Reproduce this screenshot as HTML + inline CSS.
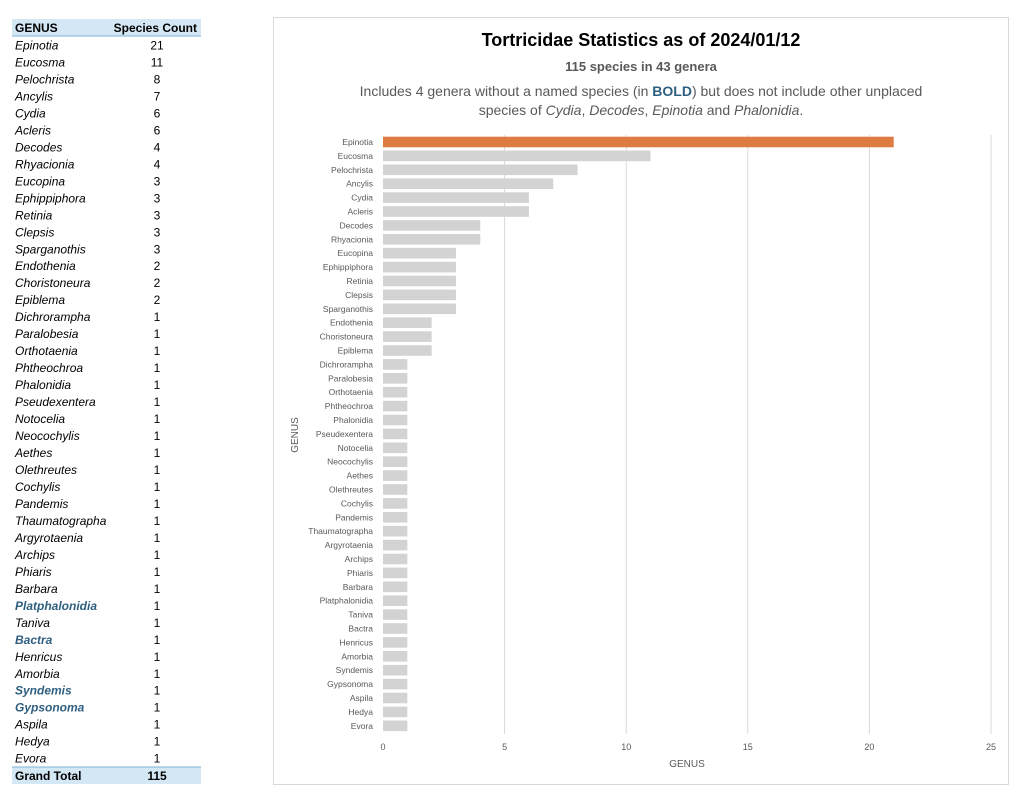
<!DOCTYPE html>
<html><head><meta charset="utf-8"><style>
body{margin:0;background:#fff;width:1024px;height:802px;overflow:hidden;font-family:"Liberation Sans",sans-serif}
</style></head><body>
<svg width="1024" height="802" xmlns="http://www.w3.org/2000/svg" font-family="Liberation Sans, sans-serif">
<rect x="12" y="19" width="189" height="17" fill="#d4e7f4"/>
<line x1="12" y1="36" x2="201" y2="36" stroke="#7fb3d8" stroke-width="1"/>
<text x="15" y="32" font-size="12" font-weight="bold" fill="#000">GENUS</text>
<text x="197" y="32" font-size="12" font-weight="bold" fill="#000" text-anchor="end">Species Count</text>
<rect x="12" y="767" width="189" height="17" fill="#d4e7f4"/>
<line x1="12" y1="767" x2="201" y2="767" stroke="#7fb3d8" stroke-width="1"/>
<text x="15" y="780" font-size="12" font-weight="bold">Grand Total</text>
<text x="157" y="780" font-size="12" font-weight="bold" text-anchor="middle">115</text>
<rect x="273.5" y="17.5" width="735" height="767" fill="#fff" stroke="#d9d9d9"/>
<text x="641" y="46" font-size="18" font-weight="bold" text-anchor="middle" fill="#000">Tortricidae Statistics as of 2024/01/12</text>
<text x="641" y="71" font-size="13" font-weight="bold" text-anchor="middle" fill="#595959">115 species in 43 genera</text>
<text x="641" y="96" font-size="14" text-anchor="middle" fill="#595959">Includes 4 genera without a named species (in <tspan font-weight="bold" fill="#2f5f80">BOLD</tspan>) but does not include other unplaced</text>
<text x="641" y="115" font-size="14" text-anchor="middle" fill="#595959">species of <tspan font-style="italic">Cydia</tspan>, <tspan font-style="italic">Decodes</tspan>, <tspan font-style="italic">Epinotia</tspan> and <tspan font-style="italic">Phalonidia</tspan>.</text>
<g stroke="#d9d9d9" stroke-width="1">
<line x1="504.6" y1="135" x2="504.6" y2="734"/><line x1="626.2" y1="135" x2="626.2" y2="734"/><line x1="747.8" y1="135" x2="747.8" y2="734"/><line x1="869.4" y1="135" x2="869.4" y2="734"/><line x1="991" y1="135" x2="991" y2="734"/>
</g>
<g font-size="9" fill="#595959" text-anchor="middle">
<text x="383" y="750">0</text><text x="504.6" y="750">5</text><text x="626.2" y="750">10</text><text x="747.8" y="750">15</text><text x="869.4" y="750">20</text><text x="991" y="750">25</text>
<text x="687" y="767" font-size="10">GENUS</text>
<text transform="translate(298,435) rotate(-90)" font-size="10">GENUS</text>
</g>
<g id="rows"></g>
</svg>
<script>
var d=[["Epinotia",21],["Eucosma",11],["Pelochrista",8],["Ancylis",7],["Cydia",6],["Acleris",6],["Decodes",4],["Rhyacionia",4],["Eucopina",3],["Ephippiphora",3],["Retinia",3],["Clepsis",3],["Sparganothis",3],["Endothenia",2],["Choristoneura",2],["Epiblema",2],["Dichrorampha",1],["Paralobesia",1],["Orthotaenia",1],["Phtheochroa",1],["Phalonidia",1],["Pseudexentera",1],["Notocelia",1],["Neocochylis",1],["Aethes",1],["Olethreutes",1],["Cochylis",1],["Pandemis",1],["Thaumatographa",1],["Argyrotaenia",1],["Archips",1],["Phiaris",1],["Barbara",1],["Platphalonidia",1],["Taniva",1],["Bactra",1],["Henricus",1],["Amorbia",1],["Syndemis",1],["Gypsonoma",1],["Aspila",1],["Hedya",1],["Evora",1]];
var bold={Platphalonidia:1,Bactra:1,Syndemis:1,Gypsonoma:1};
var s="",NS="http://www.w3.org/2000/svg";
for(var i=0;i<d.length;i++){
 var ty=45+i*16.98, cy=142+i*13.9;
 var b=bold[d[i][0]];
 s+='<text x="15" y="'+(ty+4.5)+'" font-size="12" font-style="italic" '+(b?'font-weight="bold" fill="#2f5f80"':'fill="#000"')+'>'+d[i][0]+'</text>';
 s+='<text x="157" y="'+(ty+4.5)+'" font-size="12" text-anchor="middle">'+d[i][1]+'</text>';
 s+='<text x="373" y="'+(cy+3)+'" font-size="8.5" fill="#595959" text-anchor="end">'+d[i][0]+'</text>';
 s+='<rect x="383" y="'+(cy-5.3)+'" width="'+(d[i][1]*24.32)+'" height="10.6" fill="'+(i==0?'#de7b43':'#d3d3d3')+'"/>';
}
document.getElementById("rows").innerHTML=s;
</script>
</body></html>
